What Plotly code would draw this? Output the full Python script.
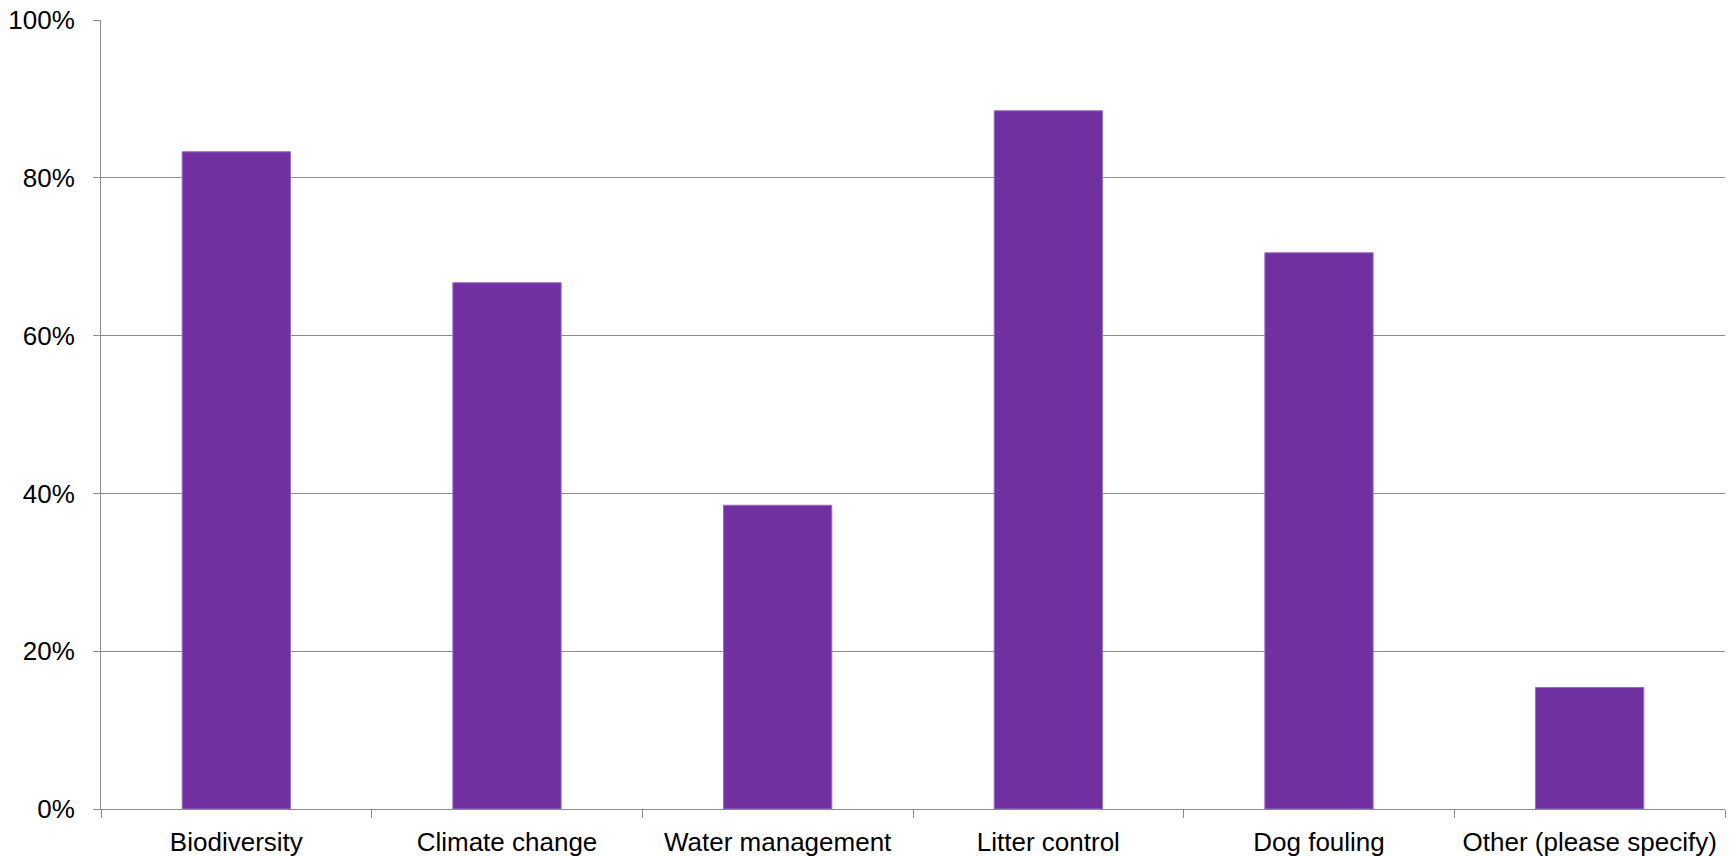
import plotly.graph_objects as go

categories = ["Biodiversity", "Climate change", "Water management", "Litter control", "Dog fouling", "Other (please specify)"]
values = [0.833, 0.667, 0.385, 0.885, 0.705, 0.154]
y_ticks = [0, 0.2, 0.4, 0.6, 0.8, 1.0]
y_tick_labels = ["0%", "20%", "40%", "60%", "80%", "100%"]

fig = go.Figure(go.Bar(
    x=categories, y=values, width=0.4,
    marker=dict(color="#7030A0", line=dict(color="#9a6cc4", width=1)),
))

fig.update_layout(
    width=1733, height=856,
    margin=dict(l=101, r=8, t=20, b=47),
    plot_bgcolor="white", paper_bgcolor="white",
    font=dict(family="Liberation Sans, Arial, sans-serif", size=26, color="#000000"),
    showlegend=False,
    bargap=0.6,
)
fig.update_yaxes(
    range=[0, 1], tickvals=y_ticks, ticktext=y_tick_labels,
    showgrid=True, gridcolor="#8c8c8c", gridwidth=1,
    showline=True, linecolor="#8c8c8c", linewidth=1,
    ticks="outside", ticklen=7, tickcolor="#8c8c8c",
    ticklabelstandoff=13, zeroline=False, automargin=False,
)
fig.update_xaxes(
    showline=True, linecolor="#8c8c8c", linewidth=1,
    ticks="outside", tickson="boundaries", ticklen=8, tickcolor="#8c8c8c",
    ticklabelstandoff=10, showgrid=False, automargin=False,
)
fig.write_html(
    "out.html",
    config={"displayModeBar": False},
    post_script="document.body.style.margin='0';document.body.style.overflow='hidden';",
)
